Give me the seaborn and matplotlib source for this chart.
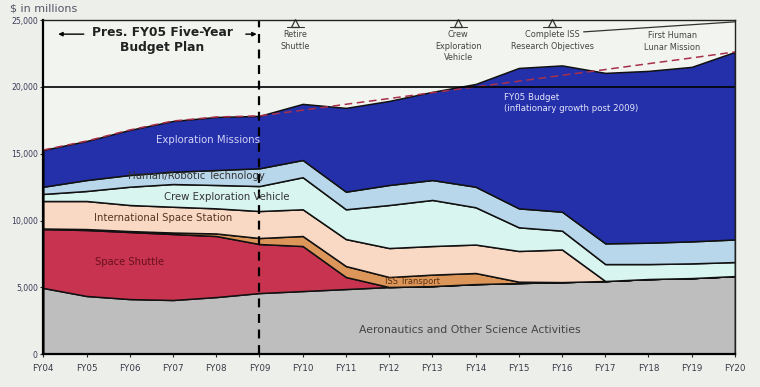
import matplotlib
matplotlib.use("Agg")
import matplotlib.pyplot as plt
import numpy as np
import seaborn as sns

# Fiscal years on the x axis
years = ['FY04', 'FY05', 'FY06', 'FY07', 'FY08', 'FY09', 'FY10', 'FY11', 'FY12',
         'FY13', 'FY14', 'FY15', 'FY16', 'FY17', 'FY18', 'FY19', 'FY20']

# Budget layers ($ millions), bottom to top
aeronautics = [4950, 4350, 4120, 4050, 4270, 4570, 4720, 4870, 5020,
               5090, 5240, 5320, 5390, 5470, 5620, 5690, 5840]
shuttle = [4410, 4940, 5020, 4940, 4570, 3670, 3370, 900, 0,
           0, 0, 0, 0, 0, 0, 0, 0]
iss_transport = [40, 70, 70, 110, 190, 450, 750, 820, 750,
                 860, 830, 100, 0, 0, 0, 0, 0]
iss = [2060, 2100, 1950, 1930, 1880, 2020, 2000, 2020, 2170,
       2140, 2130, 2300, 2440, 0, 0, 0, 0]
cev = [530, 750, 1370, 1700, 1750, 1870, 2400, 2230, 3220,
       3450, 2790, 1770, 1410, 1270, 1120, 1100, 1050]
human_robotic = [540, 820, 880, 920, 1120, 1330, 1290, 1320, 1500,
                 1490, 1540, 1420, 1420, 1550, 1600, 1650, 1690]
exploration = [2750, 2920, 3370, 3800, 3970, 3920, 4200, 6270, 6290,
               6600, 7690, 10510, 10950, 12760, 12860, 13060, 14040]

# FY05 budget line (inflationary growth post 2009)
fy05_budget = [15280, 15950, 16780, 17450, 17750, 17830, 18260, 18700, 19130,
               19570, 20000, 20430, 20870, 21300, 21740, 22170, 22620]

y_ticks = [0, 5000, 10000, 15000, 20000, 25000]
y_tick_labels = ['0', '5,000', '10,000', '15,000', '20,000', '25,000']

layer_colors = ['#BEBEBE', '#C8334F', '#DC965A', '#F9D9C4',
                '#D9F5F0', '#B9D7EA', '#2330AA']

sns.set_theme(style='white')
plt.rcParams['font.family'] = ['DejaVu Sans']

fig, ax = plt.subplots(figsize=(7.6, 3.87), dpi=100)
fig.subplots_adjust(left=0.057, right=0.967, bottom=0.085, top=0.948)
fig.patch.set_facecolor('#EDEFEA')
ax.set_facecolor('#F2F4EF')

x = np.arange(len(years))
ax.stackplot(x, aeronautics, shuttle, iss_transport, iss, cev, human_robotic,
             exploration, colors=layer_colors, edgecolor='#111111', linewidth=1.1)

# FY05 budget dashed line
sns.lineplot(x=x, y=fy05_budget, ax=ax, color='#A8304A', linestyle='--',
             linewidth=1.1, dashes=False)
ax.lines[-1].set_dashes((5, 3))

# reference lines
ax.axhline(20000, color='black', linewidth=1.2)
ax.axvline(5, color='black', linewidth=1.6, dashes=(4, 3))

ax.set_xlim(0, 16)
ax.set_ylim(0, 25000)
ax.set_xticks(x)
ax.set_xticklabels(years, fontsize=6.3, color='#3A3A48')
ax.set_yticks(y_ticks)
ax.set_yticklabels(y_tick_labels, fontsize=5.6, color='#3A3A58')
ax.tick_params(axis='x', length=2, width=0.8, direction='out', pad=5, bottom=True)
ax.tick_params(axis='y', length=2, width=0.8, direction='out', pad=2, left=True)
ax.set_xlabel('')
ax.set_ylabel('')
for side in ['left', 'bottom']:
    ax.spines[side].set_color('black')
    ax.spines[side].set_linewidth(1.6)
for side in ['top', 'right']:
    ax.spines[side].set_color('#222222')
    ax.spines[side].set_linewidth(1.0)

# units label
fig.text(0.013, 0.978, '$ in millions', fontsize=8, color='#555566', va='center')

# layer labels
ax.text(3.8, 16030, 'Exploration Missions', fontsize=7.3, color='#D4D4F8', ha='center', va='center')
ax.text(3.55, 13330, 'Human/Robotic Technology', fontsize=7.3, color='#333333', ha='center', va='center')
ax.text(4.25, 11760, 'Crew Exploration Vehicle', fontsize=7.3, color='#333333', ha='center', va='center')
ax.text(2.77, 10190, 'International Space Station', fontsize=7.3, color='#553322', ha='center', va='center')
ax.text(2.0, 6890, 'Space Shuttle', fontsize=7.2, color='#6A1020', ha='center', va='center')
ax.text(8.55, 5470, 'ISS Transport', fontsize=6, color='#5A3010', ha='center', va='center')
ax.text(9.87, 1800, 'Aeronautics and Other Science Activities', fontsize=7.8,
        color='#444444', ha='center', va='center')
ax.text(10.65, 18800, 'FY05 Budget\n(inflationary growth post 2009)', fontsize=6.2,
        color='#E6E6FA', ha='left', va='center', linespacing=1.3)

# five-year plan header with arrows
ax.text(2.75, 23500, 'Pres. FY05 Five-Year\nBudget Plan', fontsize=8.8,
        fontweight='bold', color='#222222', ha='center', va='center', linespacing=1.15)
ax.annotate('', xy=(0.28, 23950), xytext=(1.0, 23950),
            arrowprops=dict(arrowstyle='-|>', color='black', lw=1, mutation_scale=6))
ax.annotate('', xy=(5.0, 23950), xytext=(4.62, 23950),
            arrowprops=dict(arrowstyle='-|>', color='black', lw=1, mutation_scale=6))

# milestones
milestones = [(5.83, 'Retire\nShuttle'), (9.6, 'Crew\nExploration\nVehicle'),
              (11.77, 'Complete ISS\nResearch Objectives')]
for mx, label in milestones:
    ax.plot(mx, 24800, marker='^', markersize=6, markerfacecolor='#F2F4EF',
            markeredgecolor='#333333', markeredgewidth=0.9, clip_on=False)
    ax.plot([mx - 0.2, mx + 0.2], [24450, 24450], color='#333333', lw=0.8)
    ax.text(mx, 24250, label, fontsize=5.9, color='#444444', ha='center', va='top',
            linespacing=1.35)
ax.text(14.55, 24150, 'First Human\nLunar Mission', fontsize=5.9, color='#444444',
        ha='center', va='top', linespacing=1.35)
ax.plot([12.5, 16], [24120, 24870], color='#333333', lw=0.9)

fig.savefig('out.png', dpi=100, facecolor=fig.get_facecolor())
